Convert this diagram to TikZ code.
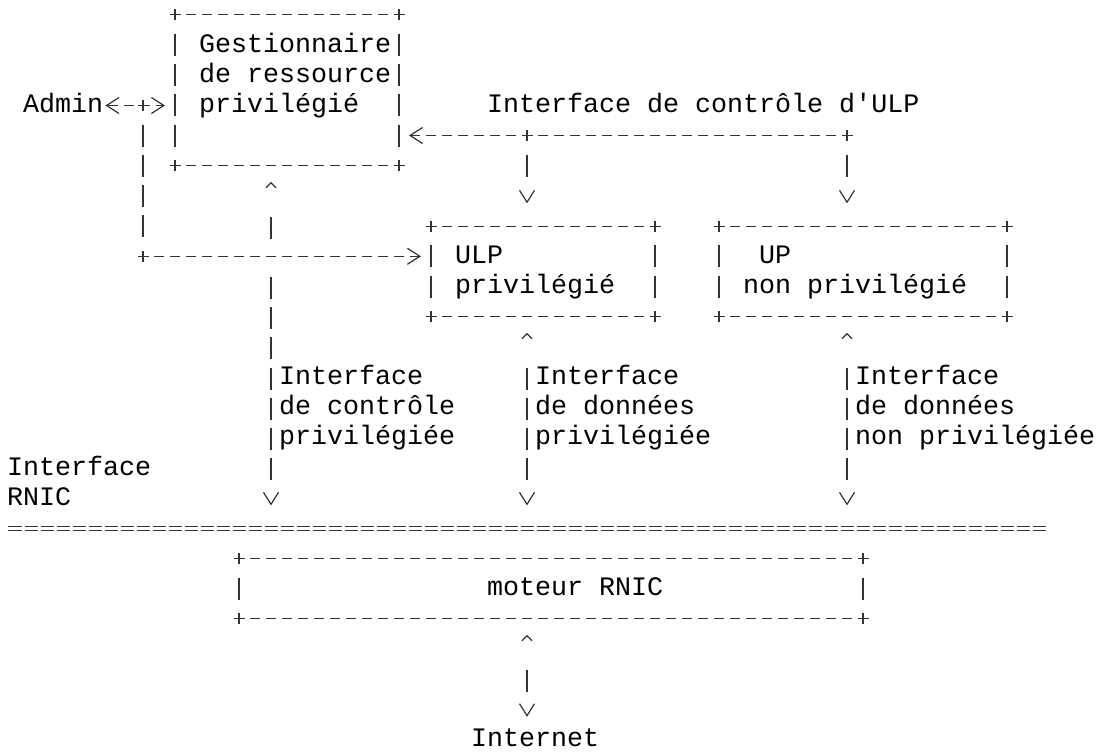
\documentclass[tikz,border=0pt]{standalone}
\usepackage{fontspec}
\setmonofont{Liberation Mono}
\usetikzlibrary{arrows.meta}

\newcommand{\asciifont}{\ttfamily\fontsize{26.67pt}{30.2pt}\selectfont}
\newcommand{\rowstrut}{\rule[-8pt]{0pt}{30.2pt}}

\tikzset{
	asciiup/.tip={Straight Barb[length=5pt,width=10pt]},
	asciidn/.tip={Straight Barb[length=12pt,width=15pt]},
	asciihz/.tip={Straight Barb[length=12.5pt,width=16pt]},
	conn/.style={draw=black!80, line width=1.2pt},
	hline/.style={conn, dash pattern=on 10pt off 6pt},
	vline/.style={conn, dash pattern=on 22pt off 8.2pt},
	eqline/.style={conn, double, double distance=2.8pt, line width=1.1pt,
		dash pattern=on 13pt off 3pt, dash phase=14.5pt},
	box/.style={inner sep=0pt, outer sep=0pt},
	lbl/.style={anchor=north west, inner sep=0pt, align=left, font=\asciifont},
}

\begin{document}
\begin{tikzpicture}[x=16pt, y=-30.2pt]

% Page size of the reference
\path[use as bounding box, fill=white] (-0.9375,-0.4868) rectangle (67.6875,24.546);

% Corners and junctions
\newcommand{\plusmark}[1]{
	\draw[conn] ([xshift=-5.5pt]#1) -- ([xshift=5.5pt]#1)
		([yshift=-5.5pt]#1) -- ([yshift=5.5pt]#1);
}

% Boxes
\newcommand{\abox}[4]{
	\node[box, minimum width=#3*16pt, minimum height=#4*30.2pt] (#1) at (#2) {};
	\draw[hline] ([xshift=11pt]#1.north west) -- ([xshift=-11pt]#1.north east);
	\draw[hline] ([xshift=11pt]#1.south west) -- ([xshift=-11pt]#1.south east);
	\draw[vline] ([yshift=-19.2pt]#1.north west) -- ([yshift=19.2pt]#1.south west);
	\draw[vline] ([yshift=-19.2pt]#1.north east) -- ([yshift=19.2pt]#1.south east);
	\foreach \corner in {north west, north east, south west, south east}
		{\plusmark{#1.\corner}}
}
\abox  {grm}    {17,2.5}    {14}  {5}
\abox  {ulp}    {33,8.5}    {14}  {3}
\abox  {up}     {53,8.5}    {18}  {3}
\abox  {engine} {33.5,19}   {39}  {2}

% Texts
\node[lbl] (admin)     at (0.5,2.5)   {\rowstrut Admin};
\node[lbl] (grmtxt)    at (11.5,0.5)  {\rowstrut Gestionnaire\\\rowstrut de ressource\\\rowstrut privilégié};
\node[lbl] (ctlulp)    at (29.5,2.5)  {\rowstrut Interface de contrôle d'ULP};
\node[lbl] (ulptxt)    at (27.5,7.5)  {\rowstrut ULP\\\rowstrut privilégié};
\node[lbl] (uptxt)     at (45.5,7.5)  {\rowstrut\hspace*{16pt}UP\\\rowstrut non privilégié};
\node[lbl] (ctlpriv)   at (16.5,11.5) {\rowstrut Interface\\\rowstrut de contrôle\\\rowstrut privilégiée};
\node[lbl] (datpriv)   at (32.5,11.5) {\rowstrut Interface\\\rowstrut de données\\\rowstrut privilégiée};
\node[lbl] (datnpriv)  at (52.5,11.5) {\rowstrut Interface\\\rowstrut de données\\\rowstrut non privilégiée};
\node[lbl] (rnictxt)   at (-0.5,14.5) {\rowstrut Interface\\\rowstrut RNIC};
\node[lbl] (enginetxt) at (29.5,18.5) {\rowstrut moteur RNIC};
\node[lbl] (inet)      at (28.5,23.5) {\rowstrut Internet};

% Junctions
\coordinate (jadm)  at (8,3);
\coordinate (jdn)   at (8,8);
\coordinate (jctl)  at (32,4);
\coordinate (jctr)  at (52,4);
\coordinate (jgrm)  at (16,5);
\coordinate (rnicw) at (-0.5,17);
\coordinate (rnice) at (64.5,17);
\foreach \j in {jadm, jdn, jctl, jctr}
	{\plusmark{\j}}

% Admin
\draw[hline, dash phase=15pt, asciihz-asciihz]
	([xshift=2pt]admin.east) -- ([xshift=-10pt]admin.east -| grm.west);
\draw[conn, dash pattern=on 5pt off 14.2pt on 22pt off 8.2pt on 22pt off 8.2pt on 22pt off 8.2pt on 22pt off 14.2pt on 5pt]
	(jadm) -- (jdn);
\draw[hline, dash phase=5pt, -asciihz] (jdn) -- ([xshift=-10pt]jdn -| ulp.west);

% ULP control interface
\draw[hline, dash phase=5pt, -asciihz] (jctr) -- ([xshift=10pt]jctr -| grm.east);
\draw[conn, dash pattern=on 5pt off 14.2pt on 22pt off 50pt, -asciidn]
	(jctl) -- ([yshift=22.7pt]jctl |- ulp.north);
\draw[conn, dash pattern=on 5pt off 14.2pt on 22pt off 50pt, -asciidn]
	(jctr) -- ([yshift=22.7pt]jctr |- up.north);

% RNIC interface
\draw[eqline] (rnicw) -- (rnice);

% Down to the RNIC interface
\draw[conn, dash pattern=on 0pt off 33.2pt on 22pt off 38.4pt on 22pt off 8.2pt on 22pt off 8.2pt on 22pt off 8.2pt on 22pt off 8.2pt on 22pt off 8.2pt on 22pt off 8.2pt on 22pt off 60pt, asciiup-asciidn]
	([yshift=-16.2pt]jgrm) -- ([yshift=22.7pt]jgrm |- rnicw);
\draw[conn, dash pattern=on 0pt off 33.2pt on 22pt off 8.2pt on 22pt off 8.2pt on 22pt off 8.2pt on 22pt off 60pt, asciiup-asciidn]
	([yshift=-16.2pt]jctl |- ulp.south) -- ([yshift=22.7pt]jctl |- rnicw);
\draw[conn, dash pattern=on 0pt off 33.2pt on 22pt off 8.2pt on 22pt off 8.2pt on 22pt off 8.2pt on 22pt off 60pt, asciiup-asciidn]
	([yshift=-16.2pt]jctr |- up.south) -- ([yshift=22.7pt]jctr |- rnicw);

% Internet
\draw[conn, dash pattern=on 0pt off 33.2pt on 22pt off 60pt, asciiup-asciidn]
	([yshift=-16.2pt]jctl |- engine.south) -- ([yshift=7.6pt]jctl |- inet.north);

\end{tikzpicture}
\end{document}
